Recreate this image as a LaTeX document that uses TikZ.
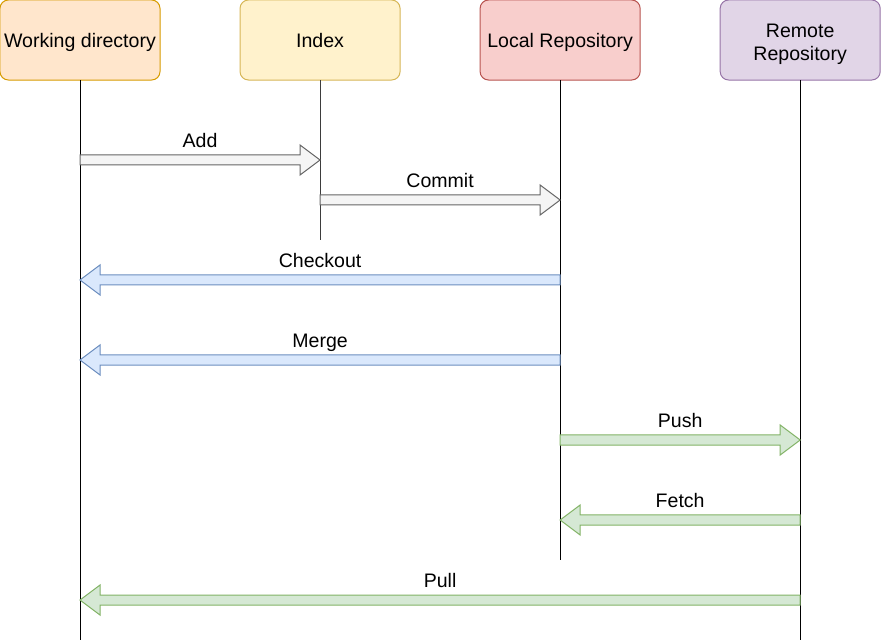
\documentclass[tikz,border=0pt]{standalone}
\usepackage{fontspec}
\setmainfont{Liberation Sans}
\usetikzlibrary{calc,positioning}
\definecolor{peachfill}{HTML}{FFE6CC}
\definecolor{peachline}{HTML}{D79B00}
\definecolor{creamfill}{HTML}{FFF2CC}
\definecolor{creamline}{HTML}{D6B656}
\definecolor{rosefill}{HTML}{F8CECC}
\definecolor{roseline}{HTML}{B85450}
\definecolor{lilacfill}{HTML}{E1D5E7}
\definecolor{lilacline}{HTML}{9673A6}
\definecolor{greyfill}{HTML}{F5F5F5}
\definecolor{greyline}{HTML}{666666}
\definecolor{skyfill}{HTML}{DAE8FC}
\definecolor{skyline}{HTML}{6C8EBF}
\definecolor{mintfill}{HTML}{D5E8D4}
\definecolor{mintline}{HTML}{82B366}
\tikzset{
  area/.style={
    rounded corners=6pt,
    line width=0.025cm,
    align=center,
    minimum width=4cm,
    minimum height=2cm,
    inner sep=1pt,
    outer sep=0pt,
    text height=10.1pt,
    text depth=0pt
  },
  lifeline/.style={
    line width=0.025cm,
    black
  },
  localmove/.style={
    line width=0.025cm,
    draw=greyline,
    fill=greyfill
  },
  restore/.style={
    line width=0.025cm,
    draw=skyline,
    fill=skyfill
  },
  remotemove/.style={
    line width=0.025cm,
    draw=mintline,
    fill=mintfill
  },
  steplabel/.style={
    anchor=base,
    yshift=0.3cm,
    inner sep=0pt
  }
}
% fat arrow: from, to, style, label
\newcommand{\fatarrow}[4]{%
  \coordinate (hb) at ($(#2)!0.5cm!(#1)$);
  \draw[#3] ($(#1)!0.125cm!90:(#2)$) -- ($(hb)!0.125cm!90:(#2)$)
    -- ($(hb)!0.375cm!90:(#2)$) -- (#2) -- ($(hb)!0.375cm!-90:(#2)$)
    -- ($(hb)!0.125cm!-90:(#2)$) -- ($(#1)!0.125cm!-90:(#2)$) -- cycle;
  \node[steplabel] at ($(#1)!0.5!(#2)$) {#4};
}
\begin{document}
\begin{tikzpicture}[x=0.025cm, y=-0.025cm, font=\fontsize{13.9}{17}\selectfont]
\useasboundingbox (0,0) rectangle (881,642);
\node[area, fill=peachfill, draw=peachline] (wd) at (80,40) {Working directory};
\node[area, fill=creamfill, draw=creamline, right=2cm of wd] (idx) {Index};
\node[area, fill=rosefill, draw=roseline, right=2cm of idx] (lr) {Local Repository};
\node[area, fill=lilacfill, draw=lilacline, text height=29.8pt, right=2cm of lr] (rr) {Remote\\Repository};

% rows
\coordinate (r1) at (0,160);
\coordinate (r2) at (0,200);
\coordinate (r3) at (0,280);
\coordinate (r4) at (0,360);
\coordinate (r5) at (0,440);
\coordinate (r6) at (0,520);
\coordinate (r7) at (0,600);
\coordinate (wdend) at (wd |- 0,640);
\coordinate (idxend) at (idx |- 0,240);
\coordinate (lrend) at (lr |- 0,560);
\coordinate (rrend) at (rr |- 0,640);

\draw[lifeline] (wd.south) -- (wdend);
\draw[lifeline, greyline!60!black] (idx.south) -- (idxend);
\draw[lifeline] (lr.south) -- (lrend);
\draw[lifeline] (rr.south) -- (rrend);

\fatarrow{wd |- r1}{idx |- r1}{localmove}{Add}
\fatarrow{idx |- r2}{lr |- r2}{localmove}{Commit}
\fatarrow{lr |- r3}{wd |- r3}{restore}{Checkout}
\fatarrow{lr |- r4}{wd |- r4}{restore}{Merge}
\fatarrow{lr |- r5}{rr |- r5}{remotemove}{Push}
\fatarrow{rr |- r6}{lr |- r6}{remotemove}{Fetch}
\fatarrow{rr |- r7}{wd |- r7}{remotemove}{Pull}
\end{tikzpicture}
\end{document}
